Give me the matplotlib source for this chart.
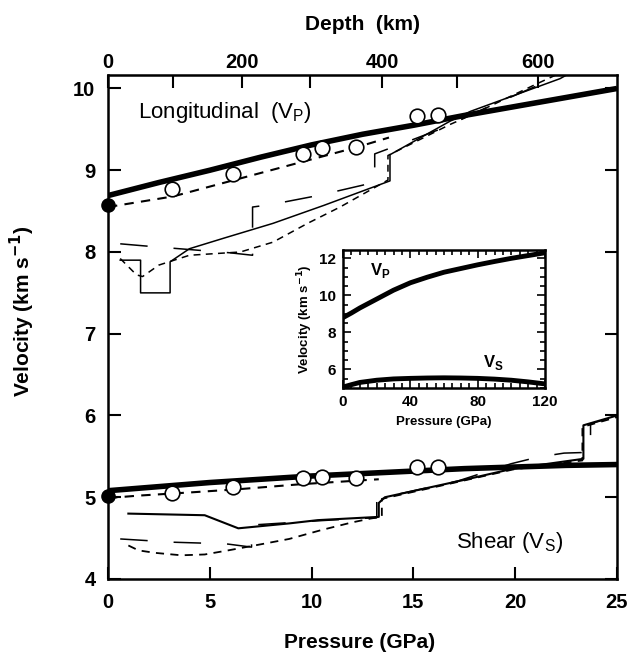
import matplotlib
matplotlib.use("Agg")
import matplotlib.pyplot as plt
import numpy as np

plt.rcParams['font.family'] = ['Liberation Sans', 'DejaVu Sans']

# ---------------- data ----------------
# thick model curves (P in GPa, V in km/s)
model_p = [0, 2.5, 5, 7.5, 10, 12.5, 15, 17.5, 20, 22.5, 25]
model_vp = [8.69, 8.85, 9.00, 9.16, 9.31, 9.44, 9.55, 9.67, 9.78, 9.89, 10.00]
model_vs = [5.08, 5.13, 5.18, 5.22, 5.26, 5.29, 5.32, 5.35, 5.37, 5.39, 5.40]

# ambient-pressure values (filled circles)
ambient_vp = 8.57
ambient_vs = 5.01

# measurements (open circles)
meas_p = [3.15, 6.12, 9.6, 10.5, 12.2, 15.2, 16.2]
meas_vp = [8.77, 8.96, 9.20, 9.27, 9.28, 9.66, 9.68]
meas_vs = [5.05, 5.13, 5.23, 5.25, 5.23, 5.37, 5.37]

# fit to measurements (short dashed, near circles)
fit_p = [0, 3.2, 6.5, 9.8, 12.2, 13.8]
fit_vp = [8.55, 8.68, 8.90, 9.12, 9.28, 9.40]
fitS_p = [0, 1.5, 4.1, 6.5, 9.5, 13.3]
fit_vs = [4.99, 5.02, 5.06, 5.10, 5.16, 5.22]

# seismic profile 1 (thin solid) - Vp
sp1_p = [0.6, 1.6, 1.6, 3.05, 3.05, 4.0, 5.7, 8.1, 10.6, 13.85, 13.85, 16.8, 17.8, 22.2, 23.5]
sp1_vp = [7.90, 7.90, 7.50, 7.50, 7.88, 8.04, 8.17, 8.35, 8.57, 8.87, 9.19, 9.60, 9.72, 10.12, 10.30]
# seismic profile 2 (long dashed) - Vp
sp2_p = [0.6, 2.0, 4.0, 6.0, 7.1, 7.1, 8.0, 10.3, 12.9, 13.1, 13.1, 14.5, 16.6, 17.8, 21.5, 22.5]
sp2_vp = [8.10, 8.07, 8.03, 7.99, 7.96, 8.55, 8.58, 8.69, 8.84, 8.85, 9.20, 9.33, 9.53, 9.68, 10.08, 10.20]
# seismic profile 3 (short dashed) - Vp
sp3_p = [0.6, 1.4, 1.7, 2.5, 4.0, 6.5, 8.1, 9.8, 11.4, 13.75, 13.75, 16.8, 17.8, 21.0, 22.3]
sp3_vp = [7.92, 7.72, 7.70, 7.84, 7.96, 8.00, 8.12, 8.35, 8.55, 8.88, 9.18, 9.56, 9.67, 10.05, 10.20]

# seismic profile 1 (thin solid) - Vs
ss1_p = [1.0, 4.75, 6.4, 8.9, 10.3, 13.3, 13.3, 13.6, 17.45, 19.9, 23.35, 23.35, 25.0]
ss1_vs = [4.80, 4.78, 4.62, 4.68, 4.72, 4.76, 4.93, 5.00, 5.21, 5.35, 5.47, 5.88, 6.00]
# seismic profile 2 (long dashed) - Vs
ss2_p = [0.6, 1.9, 3.2, 4.5, 5.8, 7.05, 7.05, 10.2, 11.6, 13.2, 13.2, 17.2, 19.8, 21.1, 22.4, 23.7, 23.7, 25.0]
ss2_vs = [4.49, 4.47, 4.45, 4.44, 4.43, 4.39, 4.66, 4.71, 4.73, 4.75, 4.98, 5.20, 5.41, 5.49, 5.54, 5.55, 5.90, 5.99]
# seismic profile 3 (short dashed) - Vs
ss3_p = [1.0, 1.5, 2.3, 3.6, 4.75, 5.9, 7.2, 8.9, 10.5, 11.95, 12.9, 13.45, 13.45, 17.4, 19.9, 23.3, 23.3, 25.0]
ss3_vs = [4.41, 4.35, 4.32, 4.29, 4.30, 4.35, 4.41, 4.49, 4.60, 4.69, 4.74, 4.76, 4.98, 5.20, 5.34, 5.45, 5.86, 5.98]

# top axis: depth (km) and corresponding pressure (GPa)
depth_km = [0, 100, 200, 300, 400, 500, 600]
depth_p = [0, 3.2, 6.58, 9.93, 13.48, 17.15, 21.1]
depth_labels = ['0', '', '200', '', '400', '', '600']

# inset: extrapolated model to 120 GPa
inset_p = [0, 5, 10, 20, 30, 40, 50, 60, 70, 80, 90, 100, 110, 120]
inset_vp = [8.80, 9.05, 9.32, 9.80, 10.28, 10.68, 10.98, 11.25, 11.45, 11.65, 11.83, 12.00, 12.15, 12.30]
inset_vs = [5.05, 5.18, 5.30, 5.42, 5.49, 5.52, 5.54, 5.55, 5.54, 5.52, 5.48, 5.42, 5.33, 5.22]

# ---------------- figure ----------------
W, H = 629, 656
fig = plt.figure(figsize=(W / 100, H / 100), dpi=100)
ax = fig.add_axes([108 / W, 77 / H, 509 / W, 504 / H])

thin = 1.1
dash_lw = 1.5
short = (0, (4.5, 3.5))
longd = (0, (18, 17))

# Vp group
ax.plot(model_p, model_vp, color='black', lw=4.0, solid_capstyle='butt', zorder=5)
ax.plot(fit_p, fit_vp, color='black', lw=dash_lw, linestyle=short, zorder=4)
ax.plot(sp1_p, sp1_vp, color='black', lw=thin, zorder=3)
ax.plot(sp2_p, sp2_vp, color='black', lw=thin, linestyle=longd, zorder=3)
ax.plot(sp3_p, sp3_vp, color='black', lw=thin, linestyle=short, zorder=3)
ax.plot(meas_p, meas_vp, 'o', ms=10.5, mfc='white', mec='black', mew=1.2, zorder=6)
ax.plot([0], [ambient_vp], 'o', ms=9.5, color='black', clip_on=False, zorder=7)

# Vs group
ax.plot(model_p, model_vs, color='black', lw=4.0, solid_capstyle='butt', zorder=5)
ax.plot(fitS_p, fit_vs, color='black', lw=dash_lw, linestyle=short, zorder=4)
ax.plot(ss1_p, ss1_vs, color='black', lw=thin + 0.4, zorder=3)
ax.plot(ss2_p, ss2_vs, color='black', lw=thin, linestyle=longd, zorder=3)
ax.plot(ss3_p, ss3_vs, color='black', lw=thin + 0.2, linestyle=short, zorder=3)
ax.plot(meas_p, meas_vs, 'o', ms=10.5, mfc='white', mec='black', mew=1.2, zorder=6)
ax.plot([0], [ambient_vs], 'o', ms=9.5, color='black', clip_on=False, zorder=7)

ax.set_xlim(0, 25)
ax.set_ylim(4, 10.165)
ax.set_xticks([0, 5, 10, 15, 20, 25])
ax.set_yticks([4, 5, 6, 7, 8, 9, 10])
for s in ax.spines.values():
    s.set_linewidth(1.8)
ax.tick_params(direction='in', length=9, width=1.5, labelsize=14.5, pad=10,
               right=True, top=False)
ax.tick_params(axis='y', pad=9)
for lab in ax.get_xticklabels() + ax.get_yticklabels():
    lab.set_fontweight('bold')
ax.set_xlabel('Pressure (GPa)', fontsize=15, fontweight='bold')
ax.set_ylabel('Velocity (km s$^{\\mathbf{-1}}$)', fontsize=15, fontweight='bold')
ax.xaxis.set_label_coords(0.495, -0.107)
ax.yaxis.set_label_coords(-0.14, 0.532)

sec = ax.secondary_xaxis('top')
sec.set_xticks(depth_p, depth_labels)
sec.tick_params(direction='in', length=9, width=1.5, labelsize=14.5, pad=2)
for lab in sec.get_xticklabels():
    lab.set_fontweight('bold')
sec.set_xlabel('Depth  (km)', fontsize=15, fontweight='bold', labelpad=17)

ax.text(1.47, 9.71, 'Longitudinal  (V$_\\mathregular{P}$)', fontsize=16, va='center', ha='left')
ax.text(17.1, 4.45, 'Shear (V$_\\mathregular{S}$)', fontsize=16, va='center', ha='left')

# inset
ins = fig.add_axes([343 / W, (H - 388) / H, 202 / W, 138 / H])
ins.plot(inset_p, inset_vp, color='black', lw=3.5)
ins.plot(inset_p, inset_vs, color='black', lw=3.5)
ins.set_xlim(0, 120)
ins.set_ylim(5.0, 12.45)
ins.set_xticks([0, 40, 80, 120])
ins.set_yticks([6, 8, 10, 12])
ins.set_xticks(np.arange(0, 121, 5), minor=True)
ins.set_yticks(np.arange(5, 12.5, 0.5), minor=True)
ins.tick_params(which='both', direction='in', top=True, right=True, width=1.2)
ins.tick_params(which='major', length=6, labelsize=11, pad=5)
ins.tick_params(which='minor', length=3.5)
for s in ins.spines.values():
    s.set_linewidth(1.8)
for lab in ins.get_xticklabels() + ins.get_yticklabels():
    lab.set_fontweight('bold')
ins.set_xlabel('Pressure (GPa)', fontsize=9.5, fontweight='bold', labelpad=5)
ins.set_ylabel('Velocity (km s$^{\\mathbf{-1}}$)', fontsize=9.5, fontweight='bold', labelpad=3)
ins.text(16, 11.35, 'V$_\\mathregular{P}$', fontsize=12, fontweight='bold', va='center')
ins.text(83, 6.35, 'V$_\\mathregular{S}$', fontsize=12, fontweight='bold', va='center')

fig.savefig('out.png', dpi=100)
